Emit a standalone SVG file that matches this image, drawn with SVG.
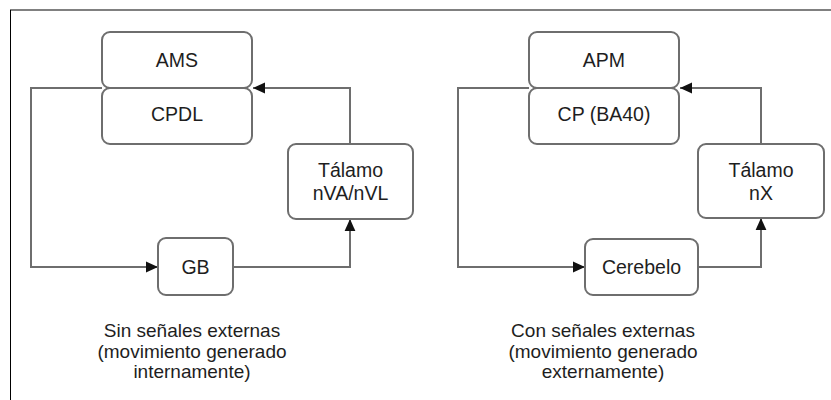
<svg xmlns="http://www.w3.org/2000/svg" width="831" height="400" viewBox="0 0 831 400">
<style>
.box{fill:#fff;stroke:#6e6e6e;stroke-width:2}
.lbl{font-family:"Liberation Sans",Arial,sans-serif;font-size:19.5px;fill:#1e1e1e;text-anchor:middle}
.cap{font-family:"Liberation Sans",Arial,sans-serif;font-size:19px;fill:#1e1e1e;text-anchor:middle}
.con{fill:none;stroke:#6e6e6e;stroke-width:2}
</style>
<defs>
<marker id="ah" markerUnits="userSpaceOnUse" markerWidth="12" markerHeight="12" viewBox="0 0 10 10" refX="10" refY="5" orient="auto">
<path d="M0,0.5 L10,5 L0,9.5 Z" fill="#111"/>
</marker>
</defs>
<rect width="831" height="400" fill="#fff"/>
<line x1="10" y1="10" x2="831" y2="10" stroke="#808080" stroke-width="2"/>
<line x1="10.5" y1="10" x2="10.5" y2="400" stroke="#000" stroke-width="1"/>
<g id="connectors">
<path class="con" d="M102 88 H31 V267 H158" marker-end="url(#ah)"/>
<path class="con" d="M233 267 H350 V219" marker-end="url(#ah)"/>
<path class="con" d="M350 144 V88 H253" marker-end="url(#ah)"/>
<path class="con" d="M529 88 H458 V267 H585" marker-end="url(#ah)"/>
<path class="con" d="M698 267 H761 V218" marker-end="url(#ah)"/>
<path class="con" d="M761 144 V88 H680" marker-end="url(#ah)"/>
</g>
<g id="ams"><rect class="box" x="102" y="32" width="150" height="56" rx="8"/><text class="lbl" x="177" y="67">AMS</text></g>
<g id="cpdl"><rect class="box" x="102" y="88" width="150" height="56" rx="8"/><text class="lbl" x="177" y="121">CPDL</text></g>
<g id="talamo1"><rect class="box" x="288" y="144" width="125" height="75" rx="8"/><text class="lbl" x="350.5" y="177">Tálamo</text><text class="lbl" x="350.5" y="200">nVA/nVL</text></g>
<g id="gb"><rect class="box" x="158" y="238" width="75" height="57" rx="8"/><text class="lbl" x="195.5" y="274">GB</text></g>
<g id="apm"><rect class="box" x="529" y="32" width="150" height="56" rx="8"/><text class="lbl" x="604" y="67">APM</text></g>
<g id="cp"><rect class="box" x="529" y="88" width="150" height="56" rx="8"/><text class="lbl" x="604" y="121">CP (BA40)</text></g>
<g id="talamo2"><rect class="box" x="698" y="144" width="126" height="74" rx="8"/><text class="lbl" x="761" y="177">Tálamo</text><text class="lbl" x="761" y="200">nX</text></g>
<g id="cerebelo"><rect class="box" x="585" y="239" width="113" height="56" rx="8"/><text class="lbl" x="641.5" y="274">Cerebelo</text></g>
<g id="caption1"><text class="cap" x="192" y="337">Sin señales externas</text><text class="cap" x="192" y="358">(movimiento generado</text><text class="cap" x="192" y="378">internamente)</text></g>
<g id="caption2"><text class="cap" x="603" y="337">Con señales externas</text><text class="cap" x="603" y="358">(movimiento generado</text><text class="cap" x="603" y="378">externamente)</text></g>
</svg>
